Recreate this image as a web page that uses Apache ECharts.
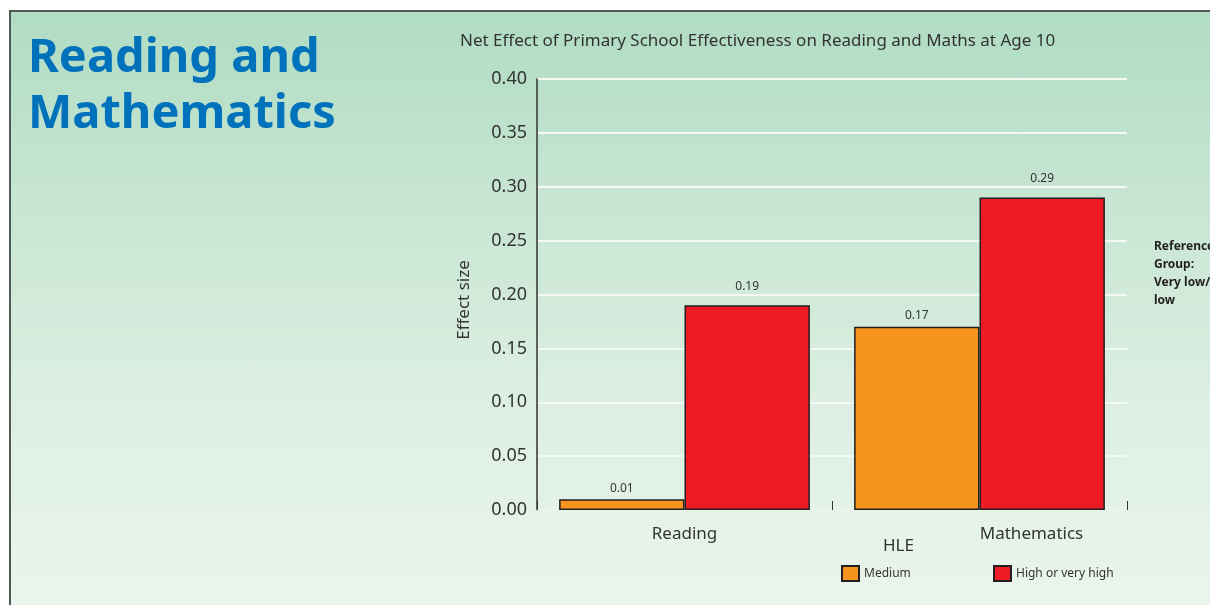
<!DOCTYPE html>
<html><head><meta charset="utf-8">
<script src="https://cdn.jsdelivr.net/npm/echarts@6/dist/echarts.min.js"></script>
<style>
html,body{margin:0;padding:0;background:#fff;width:1210px;height:605px;overflow:hidden;}
#panel{position:absolute;left:9px;top:10px;width:1210px;height:600px;border-top:2px solid #4f5b55;border-left:2px solid #4f5b55;
background:linear-gradient(to bottom,#b0dcc3 0%,#c6e5d2 30%,#dcefe2 65%,#ebf5ed 100%);}
#chart{position:absolute;left:0;top:0;width:1210px;height:605px;}
</style></head><body>
<div id="panel"></div>
<div id="chart"></div>
<script>
const categories = ['Reading', 'Mathematics'];
const seriesNames = ['Medium', 'High or very high'];
const mediumValues = [0.01, 0.17];
const highValues = [0.19, 0.29];
const yTicks = [0, 0.05, 0.10, 0.15, 0.20, 0.25, 0.30, 0.35, 0.40];

const chart = echarts.init(document.getElementById('chart'), null, {renderer: 'canvas'});
const FONT = '"Noto Sans", "Open Sans", sans-serif';
const barBorder = {borderColor: '#231f20', borderWidth: 1.5};
chart.setOption({
  backgroundColor: 'transparent',
  animation: false,
  textStyle: {fontFamily: FONT},
  title: {
    text: 'Net Effect of Primary School Effectiveness on Reading and Maths at Age 10',
    left: 455, top: 28,
    textStyle: {fontFamily: FONT, fontWeight: 'normal', fontSize: 17, color: '#333'}
  },
  grid: {left: 537, right: 83, top: 79, bottom: 95},
  legend: [
    {data: [seriesNames[0]], left: 841, top: 565, padding: 0, itemWidth: 17, itemHeight: 15, itemGap: 0, icon: 'rect',
     textStyle: {fontFamily: FONT, fontSize: 12, color: '#333'}},
    {data: [seriesNames[1]], left: 993, top: 565, padding: 0, itemWidth: 17, itemHeight: 15, itemGap: 0, icon: 'rect',
     textStyle: {fontFamily: FONT, fontSize: 12, color: '#333'}}
  ],
  xAxis: {
    type: 'category', data: categories,
    axisLine: {show: true, lineStyle: {color: '#e9efe9', width: 1.5}},
    axisTick: {show: true, inside: true, length: 9, lineStyle: {color: '#333', width: 1}},
    axisLabel: {fontFamily: FONT, fontSize: 17, color: '#333', margin: 16,
      formatter: (v, i) => i === 1 ? '{m|' + v + '}' : v,
      rich: {m: {fontFamily: FONT, fontSize: 17, color: '#333', padding: [0, 0, 0, 104]}}}
  },
  yAxis: {
    type: 'value', min: 0, max: 0.4, interval: 0.05,
    axisLine: {show: true, lineStyle: {color: '#333', width: 1.5}},
    axisTick: {show: false},
    axisLabel: {fontFamily: FONT, fontSize: 18, color: '#333', margin: 10,
      formatter: v => v.toFixed(2)},
    splitLine: {show: true, lineStyle: {color: '#f4f9f5', width: 2}}
  },
  series: [
    {name: seriesNames[0], type: 'bar', data: mediumValues, barGap: 0, barCategoryGap: '15%',
     itemStyle: Object.assign({color: '#f7941d'}, barBorder),
     label: {show: true, position: 'top', distance: 5, fontFamily: FONT, fontSize: 12, color: '#333',
       formatter: p => p.value.toFixed(2)}},
    {name: seriesNames[1], type: 'bar', data: highValues, barGap: 0, barCategoryGap: '15%',
     itemStyle: Object.assign({color: '#ed1c24'}, barBorder),
     label: {show: true, position: 'top', distance: 13, fontFamily: FONT, fontSize: 12, color: '#333',
       formatter: p => p.value.toFixed(2)}}
  ],
  graphic: [
    {type: 'text', left: 28, top: 31,
     style: {text: 'Reading and\nMathematics', fontFamily: FONT, fontWeight: 'bold', fontSize: 47, lineHeight: 56, fill: '#0072bc'}},
    {type: 'text', x: 464, y: 300, rotation: Math.PI / 2,
     style: {text: 'Effect size', fontFamily: FONT, fontSize: 17, fill: '#333', align: 'center', verticalAlign: 'middle'}},
    {type: 'text', left: 883, top: 538,
     style: {text: 'HLE', fontFamily: FONT, fontSize: 17, fill: '#333'}},
    {type: 'text', left: 1154, top: 238,
     style: {text: 'Reference\nGroup:\nVery low/\nlow', fontFamily: FONT, fontWeight: 'bold', fontSize: 12, lineHeight: 18, fill: '#231f20'}}
  ]
});
</script>
</body></html>
